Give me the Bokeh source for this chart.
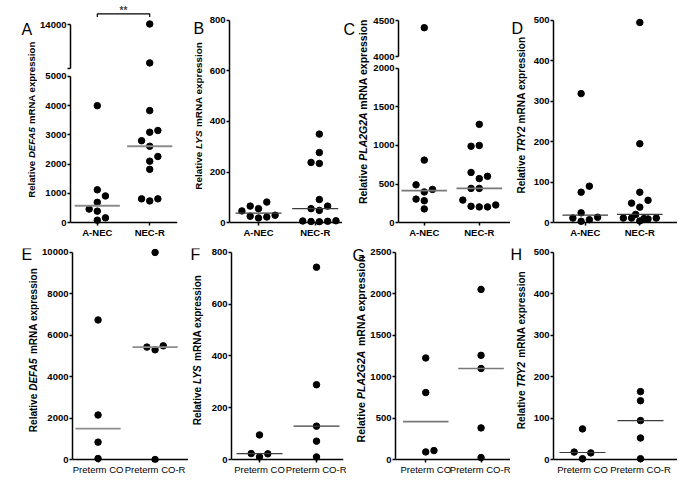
from math import pi
import numpy as np
from bokeh.plotting import figure
from bokeh.models import Range1d, FixedTicker, Span, Label
from bokeh.layouts import row, column
from bokeh.embed import file_html
from bokeh.resources import INLINE

# ---------------- data ----------------
top_groups = ["A-NEC", "NEC-R"]
bottom_groups = ["Preterm CO", "Preterm CO-R"]

defa5_anec = [4000, 1120, 910, 690, 460, 390, 160, 80]
defa5_necr = [14100, 6200, 3830, 3150, 3090, 2800, 2610, 2260, 2100, 1820, 810, 740, 810]
lys_anec = [46, 65, 55, 81, 25, 18, 22, 29]
lys_necr = [350, 277, 238, 234, 91, 55, 48, 65, 6, 4, 3, 5, 7]
pla_anec = [4400, 810, 489, 397, 430, 304, 283, 177]
pla_necr = [1274, 990, 1000, 650, 570, 600, 291, 443, 443, 211, 203, 203, 228]
try_anec = [319, 90, 75, 24, 11, 13, 7, 3]
try_necr = [495, 195, 75, 55, 48, 38, 20, 11, 11, 4, 10, 9, 11]

defa5_co = [6740, 2150, 840, 50]
defa5_cor = [10000, 5430, 5300, 5490, 0]
lys_co = [95, 23, 10, 22]
lys_cor = [743, 289, 129, 71, 10]
pla_co = [1226, 808, 92, 108]
pla_cor = [2054, 1258, 1099, 382, 24]
try_co = [74, 18, 16, 2]
try_cor = [164, 142, 94, 52, 2]

# horizontal scatter spread of the dots, in dot widths (same order as values)
jit_defa5_anec = [0, 0, 1, 0, -1, 0, 1, 0]
jit_defa5_necr = [0, 0, 0, 1, 0, -1, 0, 1, 0, 0, -1, 0, 1]
jit_lys_anec = [-2, -1, 0, 1, -1, 0, 1, 2]
jit_lys_necr = [0.5, 0.5, -0.5, 0.5, 0.5, -0.5, 0.5, 1.5, -1.5, -0.5, 0.5, 1.5, 2.5]
jit_pla_anec = [0, 0, -1, 0, 1, -1, 0, 0]
jit_pla_necr = [0, -1, 0, -1, 0, 1, -2, -1, 0, -1, 0, 1, 2]
jit_try_anec = [-0.5, 0.5, -0.5, -0.5, -1.5, 1.5, 0.5, -0.5]
jit_try_necr = [0, 0, 0, 1, -1, 0, -0.5, -2, -1, 0, 0.5, 1, 2]
jit_defa5_co = [0, 0, 0, 0]
jit_defa5_cor = [0, -1, 0, 1, 0]
jit_lys_co = [0, -1, 0, 1]
jit_lys_cor = [0, 0, 0, 0, 0]
jit_pla_co = [0, 0, 0, 1]
jit_pla_cor = [0, 0, 0, 0, 0]
jit_try_co = [0, -1, 1, 0]
jit_try_cor = [0, 0, 0, 0, 0]

# ---------------- style ----------------
FONT = "Liberation Sans"
DOT = 6.5
STEP_PX = 8.3
MED_HALF_PX = 23
TICK_SIZE = "9.5px"
GAP = 1.2            # space between label pieces, in space widths
ITALIC_WIDEN = 1.14  # rendered italic runs come out wider than the metric table

WID = {' ': 278, 'A': 722, 'C': 722, 'D': 722, 'E': 667, 'F': 611, 'G': 778, 'L': 611,
       'N': 722, 'P': 667, 'R': 722, 'S': 667, 'T': 611, 'Y': 667, 'a': 556, 'e': 556,
       'i': 278, 'l': 278, 'm': 889, 'n': 611, 'o': 611, 'p': 611, 'r': 389, 's': 556,
       't': 333, 'v': 556, 'x': 556, '-': 333}


def tw(s, size):
    return sum(WID.get(c, 556) for c in s) * size / 1000.0


def blank_fig(w, h, xr, yr, **kw):
    p = figure(width=w, height=h, x_range=xr, y_range=yr, toolbar_location=None,
               output_backend="svg", **kw)
    p.outline_line_color = None
    p.grid.visible = False
    p.background_fill_color = "white"
    p.border_fill_color = "white"
    return p


def make_strip(x0, x1, row_top, row_h, letter, letter_x, letter_mid, gene, lab_x, lab_yc, lab_size):
    w = x1 - x0
    s = blank_fig(w, row_h, Range1d(0, w), Range1d(0, row_h), x_axis_location=None,
                  y_axis_location=None, min_border_left=0, min_border_right=0,
                  min_border_top=0, min_border_bottom=0)
    yb = row_top + row_h
    s.add_layout(Label(x=letter_x - x0, y=yb - letter_mid, text=letter,
                       text_font=FONT, text_font_size="16px", text_align="left",
                       text_baseline="middle", text_color="black"))
    size = "%gpx" % lab_size
    sp = tw(" ", lab_size) * GAP
    w_rel = tw("Relative", lab_size)
    w_gene = tw(gene, lab_size) * ITALIC_WIDEN
    w_rest = tw("mRNA expression", lab_size)
    total = w_rel + w_gene + w_rest + 2 * sp
    g0 = (yb - lab_yc) - total / 2 + w_rel + sp
    common = dict(x=lab_x - x0, angle=pi / 2, text_baseline="middle", text_font=FONT,
                  text_font_size=size, text_color="black")
    s.add_layout(Label(y=g0 - sp, text="Relative", text_align="right", text_font_style="bold", **common))
    s.add_layout(Label(y=g0, text=gene, text_align="left", text_font_style="bold italic", **common))
    s.add_layout(Label(y=g0 + w_gene + sp, text="mRNA expression", text_align="left",
                       text_font_style="bold", **common))
    return s


def build_panel(row_top, row_h, x0, x1, main_x1, axis_px, c1, c2, end_px, letter, letter_x,
                letter_mid, gene, lab_x, lab_yc, lab_size, groups, jits, cats, segments,
                med_color, med_width, bold_x=True, bracket=False):
    strip = make_strip(x0, x1, row_top, row_h, letter, letter_x, letter_mid, gene, lab_x,
                       lab_yc, lab_size)
    ppu = c2 - c1
    xr = Range1d(1 - (c1 - axis_px) / ppu, 2 + (end_px - c2) / ppu)
    w = main_x1 - x1
    figs = []
    n = len(segments)
    for k, sg in enumerate(segments):
        last = k == n - 1
        lo, hi = sg["lo"], sg["hi"]
        s = (sg["py_lo"] - sg["py_hi"]) / (hi - lo)
        yr = Range1d(lo - (sg["f_bot"] - sg["py_lo"]) / s, hi + (sg["py_hi"] - sg["f_top"]) / s)
        p = blank_fig(w, sg["fig_bot"] - sg["fig_top"], xr, yr,
                      x_axis_location="below" if last else None,
                      min_border_left=axis_px - x1, min_border_right=main_x1 - end_px,
                      min_border_top=sg["f_top"] - sg["fig_top"],
                      min_border_bottom=sg["fig_bot"] - sg["f_bot"])
        ya = p.yaxis[0]
        ya.bounds = (lo, hi)
        ya.ticker = FixedTicker(ticks=list(sg["ticks"]), minor_ticks=[])
        ya.major_label_overrides = {t: "" for t in sg.get("hide", [])}
        ya.axis_line_width = 1.5
        ya.axis_line_color = "black"
        ya.major_tick_line_width = 1.5
        ya.major_tick_out = 3
        ya.major_tick_in = 0
        ya.major_label_standoff = 1
        ya.major_label_text_font = FONT
        ya.major_label_text_font_size = TICK_SIZE
        ya.major_label_text_font_style = "bold"
        ya.major_label_text_color = "black"
        if last:
            xa = p.xaxis[0]
            xa.ticker = FixedTicker(ticks=[1, 2], minor_ticks=[])
            xa.major_label_overrides = {1: cats[0], 2: cats[1]}
            xa.axis_line_color = None
            xa.major_tick_in = 3
            xa.major_tick_out = 0
            xa.major_tick_line_width = 1.5
            xa.major_label_standoff = 1
            xa.major_label_text_font = FONT
            xa.major_label_text_font_size = TICK_SIZE
            xa.major_label_text_font_style = "bold" if bold_x else "normal"
            xa.major_label_text_color = "black"
            p.add_layout(Span(location=0, dimension="width", line_color="black", line_width=1.5))
        split = segments[k + 1]["hi"] if not last else None
        for gi, (vals, jit) in enumerate(zip(groups, jits)):
            v = np.array(vals, dtype=float)
            xj = (gi + 1) + np.array(jit, dtype=float) * STEP_PX / ppu
            m = (v <= hi) if last else (v > split)
            p.scatter(xj[m], v[m], size=DOT, color="black")
            med = float(np.median(v))
            if (last and med <= hi) or (not last and med > split):
                half = MED_HALF_PX / ppu
                p.segment(x0=[gi + 1 - half], x1=[gi + 1 + half], y0=[med], y1=[med],
                          line_color=med_color, line_width=med_width)
        if bracket and k == 0:
            def val(py):
                return hi - (py - sg["py_hi"]) / s
            p.line(x=[1, 1, 2, 2], y=[val(16.5), val(13.3), val(13.3), val(16.5)],
                   line_color="black", line_width=1.2)
            p.add_layout(Label(x=1.5, y=val(9.5), text="**", text_align="center",
                               text_baseline="middle", text_font=FONT,
                               text_font_size="10px", text_font_style="bold"))
        figs.append(p)
    main = figs[0] if n == 1 else column(*figs, spacing=0)
    return [strip, main]


def seg(lo, hi, ticks, py_hi, py_lo, fig_top, fig_bot, f_top=None, f_bot=None, hide=()):
    return dict(lo=lo, hi=hi, ticks=ticks, py_hi=py_hi, py_lo=py_lo, fig_top=fig_top,
                fig_bot=fig_bot, f_top=py_hi - 4 if f_top is None else f_top,
                f_bot=py_lo + 3 if f_bot is None else f_bot, hide=list(hide))


R1T, R1H = 0, 240
R2T, R2H = 240, 237
LIGHT, MID, DARK = "#8c8c8c", "#787878", "#3c3c3c"

pA = build_panel(R1T, R1H, 0, 37, 182, 68, 95.3, 148.7, 177, "A", 21, 15, "DEFA5", 31, 121.7, 9.6,
                 [defa5_anec, defa5_necr], [jit_defa5_anec, jit_defa5_necr], top_groups,
                 [seg(5000, 14000, [5000, 14000], 24, 68.3, 0, 70, f_top=0, f_bot=70, hide=[5000]),
                  seg(0, 5000, range(0, 5001, 1000), 76, 224, 70, 240, f_top=70)],
                 LIGHT, 1.8, bracket=True)
pB = build_panel(R1T, R1H, 182, 206, 342, 229, 258, 314.7, 342, "B", 193, 13.5, "LYS", 197.5, 117.5, 9.9,
                 [lys_anec, lys_necr], [jit_lys_anec, jit_lys_necr], top_groups,
                 [seg(0, 800, range(0, 801, 200), 20, 224, 0, 240)], DARK, 1.2)
pC = build_panel(R1T, R1H, 342, 370, 510, 397, 423, 478.5, 510, "C", 343, 15, "PLA2G2A", 362, 113, 10.5,
                 [pla_anec, pla_necr], [jit_pla_anec, jit_pla_necr], top_groups,
                 [seg(4000, 4500, [4000, 4500], 20, 56, 0, 62, f_top=0, f_bot=62),
                  seg(0, 2000, range(0, 2001, 500), 68, 224, 62, 240, f_top=62)], MID, 1.6)
pD = build_panel(R1T, R1H, 510, 530, 677, 552, 584, 639, 677, "D", 511, 14, "TRY2", 521, 116.7, 10.1,
                 [try_anec, try_necr], [jit_try_anec, jit_try_necr], top_groups,
                 [seg(0, 500, range(0, 501, 100), 20, 224, 0, 240)], DARK, 1.2)

pE = build_panel(R2T, R2H, 0, 39, 188, 70, 96, 154, 188, "E", 21, 246.5, "DEFA5", 32.5, 355, 10.0,
                 [defa5_co, defa5_cor], [jit_defa5_co, jit_defa5_cor], bottom_groups,
                 [seg(0, 10000, range(0, 10001, 2000), 252, 461, 240, 477)], LIGHT, 1.8, bold_x=False)
pF = build_panel(R2T, R2H, 188, 208, 346, 231, 259, 316, 343, "F", 190, 247, "LYS", 197, 355, 10.0,
                 [lys_co, lys_cor], [jit_lys_co, jit_lys_cor], bottom_groups,
                 [seg(0, 800, range(0, 801, 200), 252, 461, 240, 477)], DARK, 1.2, bold_x=False)
pG = build_panel(R2T, R2H, 346, 367, 510, 394, 424.5, 480.3, 510, "G", 352, 248, "PLA2G2A", 360, 354, 10.5,
                 [pla_co, pla_cor], [jit_pla_co, jit_pla_cor], bottom_groups,
                 [seg(0, 2500, range(0, 2501, 500), 252, 461, 240, 477)], MID, 1.6, bold_x=False)
pH = build_panel(R2T, R2H, 510, 530, 677, 553, 582, 640, 677, "H", 510, 247, "TRY2", 521, 355, 10.1,
                 [try_co, try_cor], [jit_try_co, jit_try_cor], bottom_groups,
                 [seg(0, 500, range(0, 501, 100), 252, 461, 240, 477)], DARK, 1.2, bold_x=False)

layout = column(row(*(pA + pB + pC + pD), spacing=0),
                row(*(pE + pF + pG + pH), spacing=0), spacing=0)

open("out.html", "w").write(file_html(layout, INLINE))
